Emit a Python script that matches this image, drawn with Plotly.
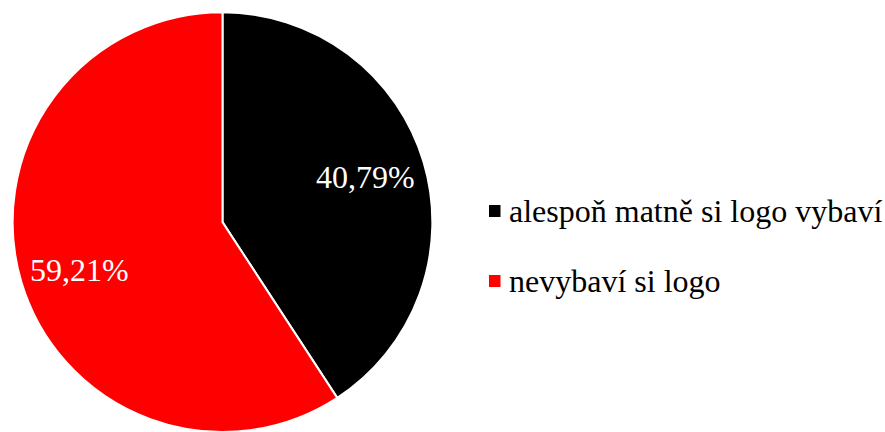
import math
import plotly.graph_objects as go

# Survey answers: share of respondents who recall the logo
labels = ["alespoň matně si logo vybaví", "nevybaví si logo"]
shares = [40.79, 59.21]
colors = ["#000000", "#ff0000"]

W, H = 885, 432
FONT = "Liberation Serif"
FONT_SIZE = 32

# Pie geometry in pixels
cx, top = 222.5, 12.3
half_w = 211.5
dom_x = [(cx - half_w) / W, (cx + half_w) / W]
dom_y = [0.0, 1 - top / H]

fig = go.Figure(
    go.Pie(
        labels=labels,
        values=shares,
        sort=False,
        direction="clockwise",
        rotation=0,
        marker=dict(colors=colors, line=dict(color="white", width=2)),
        textinfo="none",
        hoverinfo="label+percent",
        showlegend=False,
        domain=dict(x=dom_x, y=dom_y),
    )
)

# Percentage labels placed along each slice's bisector
annotations = []
total = sum(shares)
start = 0.0
label_r = 150
cy_label = 223.8
for val in shares:
    mid = (start + val / 2) / total * 360 - 1.5
    start += val
    px = cx + label_r * math.sin(math.radians(mid))
    py = cy_label - label_r * math.cos(math.radians(mid))
    annotations.append(
        dict(
            x=px / W, y=1 - py / H, xref="paper", yref="paper",
            text=f"{val:.2f}%".replace(".", ","),
            showarrow=False, xanchor="center", yanchor="middle",
            font=dict(family=FONT, size=FONT_SIZE, color="white"),
        )
    )

# Legend drawn by hand: colour square + label
shapes = []
leg_y0 = 211
leg_gap = 70
for i, (lab, col) in enumerate(zip(labels, colors)):
    yc = leg_y0 + i * leg_gap
    shapes.append(
        dict(
            type="rect", xref="paper", yref="paper",
            x0=489 / W, x1=500.5 / W,
            y0=1 - (yc + 6) / H, y1=1 - (yc - 6) / H,
            fillcolor=col, line=dict(width=0),
        )
    )
    annotations.append(
        dict(
            x=507 / W, y=1 - yc / H, xref="paper", yref="paper",
            text=lab, showarrow=False, xanchor="left", yanchor="middle",
            font=dict(family=FONT, size=FONT_SIZE, color="black"),
        )
    )

fig.update_layout(
    width=W, height=H,
    margin=dict(l=0, r=0, t=0, b=0),
    paper_bgcolor="white",
    plot_bgcolor="white",
    annotations=annotations,
    shapes=shapes,
)

fig.write_html("out.html")
